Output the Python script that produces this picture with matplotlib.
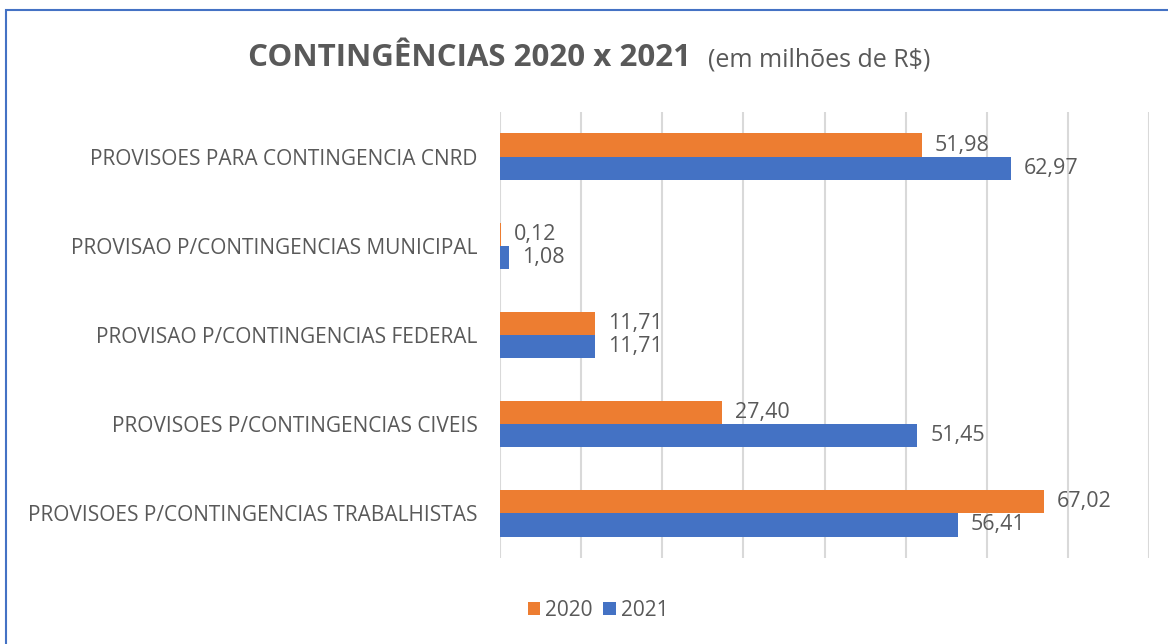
import matplotlib.pyplot as plt
import numpy as np
from matplotlib.patches import Rectangle

# chart data (values in millions of R$)
categories = [
    "PROVISOES PARA CONTINGENCIA CNRD",
    "PROVISAO P/CONTINGENCIAS MUNICIPAL",
    "PROVISAO P/CONTINGENCIAS FEDERAL",
    "PROVISOES P/CONTINGENCIAS CIVEIS",
    "PROVISOES P/CONTINGENCIAS TRABALHISTAS",
]
values_2020 = [51.98, 0.12, 11.71, 27.40, 67.02]
values_2021 = [62.97, 1.08, 11.71, 51.45, 56.41]
series_names = ["2020", "2021"]

orange = "#ED7D31"
blue = "#4472C4"
text_gray = "#595959"

plt.rcParams["font.family"] = ["Open Sans", "DejaVu Sans"]

fig = plt.figure(figsize=(11.68, 6.44), dpi=100)
ax = fig.add_axes([500 / 1168, 1 - 558 / 644, 649 / 1168, 446 / 644])

y = np.arange(len(categories))
h = 0.26
ax.barh(y - h / 2, values_2020, height=h, color=orange, label=series_names[0])
ax.barh(y + h / 2, values_2021, height=h, color=blue, label=series_names[1])

def fmt(v):
    return f"{v:.2f}".replace(".", ",")

for i in range(len(categories)):
    ax.text(values_2020[i] + 1.6, y[i] - h / 2, fmt(values_2020[i]),
            va="center", ha="left", fontsize=15.5, color=text_gray)
    ax.text(values_2021[i] + 1.6, y[i] + h / 2, fmt(values_2021[i]),
            va="center", ha="left", fontsize=15.5, color=text_gray)

ax.set_xlim(0, 80)
ax.set_ylim(len(categories) - 0.5, -0.5)
ax.set_xticks(np.arange(0, 81, 10))
ax.set_xticklabels([])
ax.tick_params(axis="x", length=0)
ax.tick_params(axis="y", length=0, pad=16, labelsize=15, labelcolor=text_gray)
ax.set_yticks(y)
ax.set_yticklabels(categories)
ax.grid(axis="x", color="#D9D9D9", linewidth=1.5)
ax.set_axisbelow(True)
for s in ax.spines.values():
    s.set_visible(False)

# title
fig.text(248 / 1168, 1 - 58 / 644, "CONTINGÊNCIAS 2020 x 2021", fontsize=22.5,
         fontweight="bold", color=text_gray, ha="left", va="center")
fig.text(708 / 1168, 1 - 60 / 644, "(em milhões de R$)", fontsize=18,
         color=text_gray, ha="left", va="center")

# legend
fig.legend(loc="center", bbox_to_anchor=(598 / 1168, 1 - 610 / 644), ncol=2,
           frameon=False, fontsize=15, handlelength=0.6, handleheight=0.6,
           handletextpad=0.25, columnspacing=0.5, labelcolor=text_gray)

# outer chart border
fig.patches.append(Rectangle((6 / 1168, -0.1), 1.2, 1 - 10 / 644 + 0.1,
                             transform=fig.transFigure, fill=False,
                             edgecolor=blue, linewidth=1.5))

fig.savefig("out.png", dpi=100)
